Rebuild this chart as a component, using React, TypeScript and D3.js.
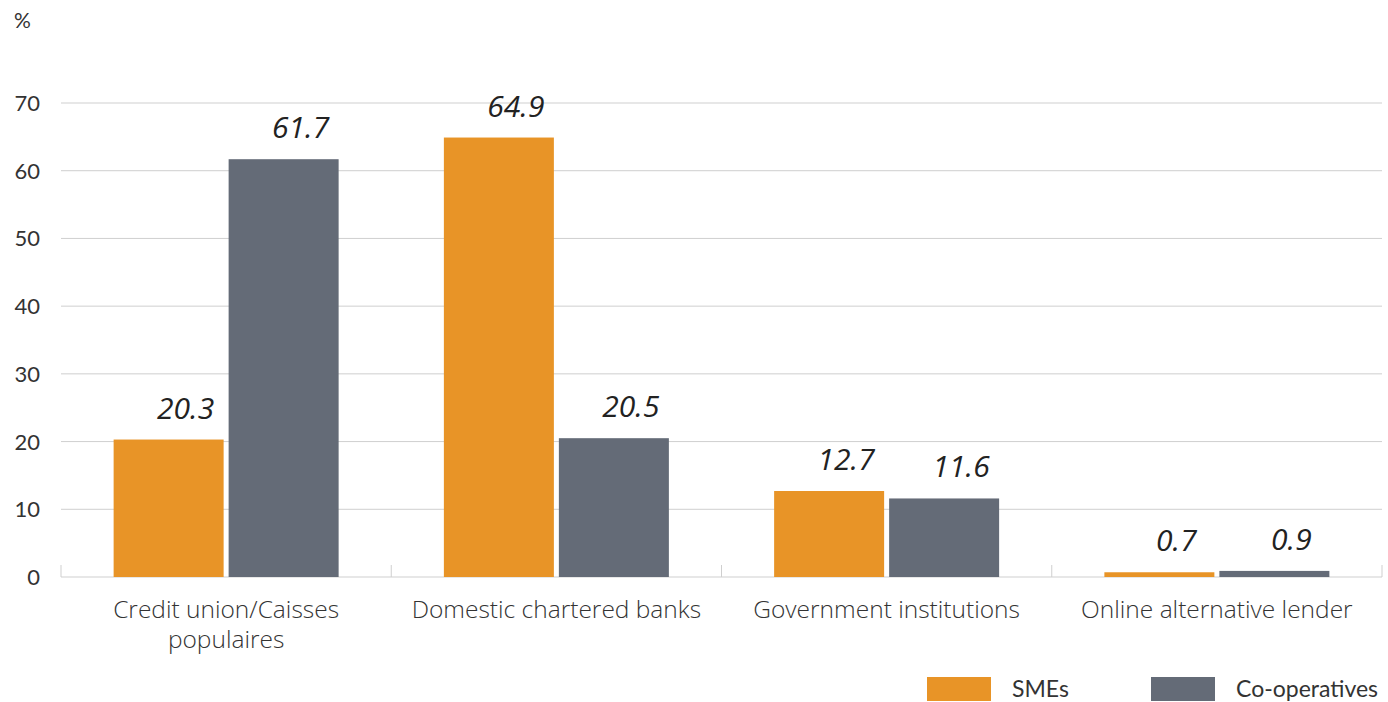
import React from "react";
import * as d3 from "d3";

const categories = [
  ["Credit union/Caisses", "populaires"],
  ["Domestic chartered banks"],
  ["Government institutions"],
  ["Online alternative lender"],
];
const seriesNames = ["SMEs", "Co-operatives"];
const smes = [20.3, 64.9, 12.7, 0.7];
const coops = [61.7, 20.5, 11.6, 0.9];
const yTicks = [0, 10, 20, 30, 40, 50, 60, 70];
const colors = ["#E89427", "#646B77"];

const W = 1388;
const H = 702;
const left = 61;
const right = 1382;
const top = 103;
const bottom = 577;

export default function App() {
  const x = d3.scaleBand<number>().domain(categories.map((_, i) => i)).range([left, right]).paddingInner(0).paddingOuter(0);
  const y = d3.scaleLinear().domain([0, 70]).range([bottom, top]);
  const barW = 110;
  const gap = 5;
  const series = [smes, coops];
  const font = "'Open Sans', sans-serif";
  return (
    <svg width={W} height={H} style={{ position: "absolute", left: 0, top: 0, background: "#fff" }}>
      <text x={14} y={28} fontFamily="Lato, sans-serif" fontSize={21} fill="#333">%</text>
      {yTicks.map((t) => (
        <g key={t}>
          <line x1={left} x2={right} y1={y(t)} y2={y(t)} stroke="#cfcfcf" strokeWidth={1} />
          <text x={40} y={y(t) + 8} textAnchor="end" fontFamily="Lato, sans-serif" fontSize={22} fill="#333">{t}</text>
        </g>
      ))}
      {categories.map((_, i) => (
        <line key={"tk" + i} x1={x(i)!} x2={x(i)!} y1={bottom} y2={bottom - 12} stroke="#cfcfcf" />
      ))}
      <line x1={right} x2={right} y1={bottom} y2={bottom - 12} stroke="#cfcfcf" />
      {categories.map((_, i) => {
        const c = x(i)! + x.bandwidth() / 2;
        return series.map((s, si) => {
          const bx = si === 0 ? c - gap / 2 - barW : c + gap / 2;
          const v = s[i];
          return (
            <g key={i + "-" + si}>
              <rect x={bx} y={y(v)} width={barW} height={bottom - y(v)} fill={colors[si]} />
              <text x={bx + barW / 2 + 17} y={y(v) - 21} textAnchor="middle" fontFamily={font} fontStyle="italic" fontSize={30} fill="#222">
                {v.toFixed(1)}
              </text>
            </g>
          );
        });
      })}
      {categories.map((lines, i) => {
        const c = x(i)! + x.bandwidth() / 2;
        return (
          <text key={"cl" + i} x={c} y={618} textAnchor="middle" fontFamily={font} fontWeight={300} fontSize={24.5} fill="#333">
            {lines.map((l, li) => (
              <tspan key={li} x={c} dy={li === 0 ? 0 : 30}>{l}</tspan>
            ))}
          </text>
        );
      })}
      {seriesNames.map((n, si) => {
        const lx = si === 0 ? 927 : 1151;
        return (
          <g key={n}>
            <rect x={lx} y={677} width={64} height={24} fill={colors[si]} />
            <text x={lx + 85} y={697} fontFamily="Lato, sans-serif" fontSize={23} fill="#333">{n}</text>
          </g>
        );
      })}
    </svg>
  );
}
